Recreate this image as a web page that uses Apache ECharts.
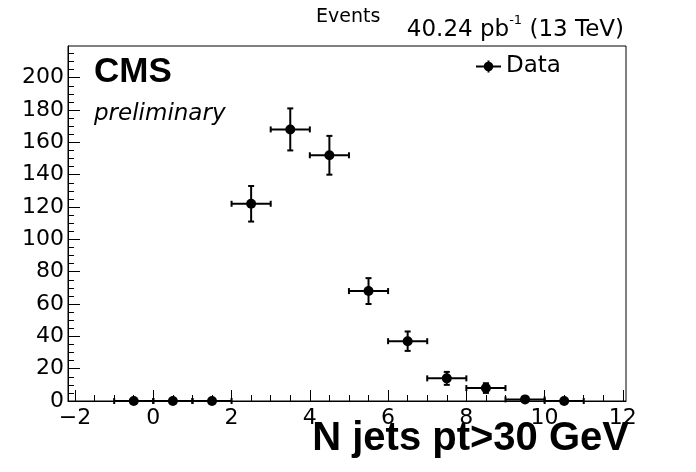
<!DOCTYPE html>
<html>
<head>
<meta charset="utf-8">
<script src="https://cdn.jsdelivr.net/npm/echarts@6/dist/echarts.min.js"></script>
<style>
html,body{margin:0;padding:0;background:#fff;}
#chart{width:696px;height:472px;}
</style>
</head>
<body>
<div id="chart"></div>
<script>
// Bin centres (N jets) and content
const binCenters = [-0.5, 0.5, 1.5, 2.5, 3.5, 4.5, 5.5, 6.5, 7.5, 8.5, 9.5, 10.5];
const events     = [0,    0,   0,   122, 168, 152, 68,  37,  14,  8,   1,   0];
const xErrors    = [0.5,  0.5, 0.5, 0.5, 0.5, 0.5, 0.5, 0.5, 0.5, 0.5, 0.5, 0.5];
const yErrors    = [0,    0,   0,   11,  13,  12,  8,   6,   4,   3,   1,   0];

const xTickLabels = [-2, 0, 2, 4, 6, 8, 10, 12];
const xMinorTicks = [-2, -1.5, -1, -0.5, 0, 0.5, 1, 1.5, 2, 2.5, 3, 3.5, 4, 4.5, 5, 5.5, 6, 6.5, 7, 7.5, 8, 8.5, 9, 9.5, 10, 10.5, 11, 11.5, 12];
const yTickLabels = [0, 20, 40, 60, 80, 100, 120, 140, 160, 180, 200];
const yMinorTicks = [5, 10, 15, 25, 30, 35, 45, 50, 55, 65, 70, 75, 85, 90, 95, 105, 110, 115, 125, 130, 135, 145, 150, 155, 165, 170, 175, 185, 190, 195, 205, 210, 215];

const X_MIN = -2.18, X_MAX = 12.08;
const Y_MIN = 0, Y_MAX = 219.6;

const seriesData = binCenters.map((x, i) => [x, events[i], xErrors[i], yErrors[i]]);

const FONT = 'DejaVu Sans';
const chart = echarts.init(document.getElementById('chart'), null, {renderer: 'canvas'});

function fmt(v) { return String(v).replace('-', '\u2212'); }

const option = {
  animation: false,
  backgroundColor: '#fff',
  grid: {
    left: 68, right: 70, top: 46, bottom: 71,
    show: true, borderColor: '#000', borderWidth: 1,
    outerBoundsMode: 'none'
  },
  legend: {
    left: 471, top: 50,
    itemWidth: 25, itemHeight: 13,
    textStyle: {fontFamily: FONT, fontSize: 23, color: '#000', padding: [0, 0, 0, 0]},
    data: [{
      name: 'Data',
      icon: 'path://M0,5.5 L25,5.5 L25,7.5 L0,7.5 Z M11.5,0.5 L13.5,0.5 L13.5,12.5 L11.5,12.5 Z M7.7,6.5 A4.8,4.8 0 1,1 17.3,6.5 A4.8,4.8 0 1,1 7.7,6.5 Z'
    }],
    itemStyle: {color: '#000'}
  },
  xAxis: [{
    type: 'value', min: X_MIN, max: X_MAX, position: 'bottom',
    axisLine: {show: true, onZero: false, lineStyle: {color: '#000', width: 1}},
    axisTick: {show: true, inside: true, length: 11, customValues: xTickLabels, lineStyle: {color: '#000', width: 1}},
    axisLabel: {customValues: xTickLabels, formatter: fmt, fontFamily: FONT, fontSize: 22, color: '#000', margin: 6},
    splitLine: {show: false}
  }, {
    type: 'value', min: X_MIN, max: X_MAX, position: 'bottom',
    axisLine: {show: false, onZero: false},
    axisTick: {show: true, inside: true, length: 6, customValues: xMinorTicks, lineStyle: {color: '#000', width: 1}},
    axisLabel: {show: false},
    splitLine: {show: false}
  }],
  yAxis: [{
    type: 'value', min: Y_MIN, max: Y_MAX, position: 'left',
    axisLine: {show: true, onZero: false, lineStyle: {color: '#000', width: 1}},
    axisTick: {show: true, inside: true, length: 12, customValues: yTickLabels, lineStyle: {color: '#000', width: 1}},
    axisLabel: {customValues: yTickLabels, fontFamily: FONT, fontSize: 22, color: '#000', margin: 4},
    splitLine: {show: false}
  }, {
    type: 'value', min: Y_MIN, max: Y_MAX, position: 'left',
    axisLine: {show: false, onZero: false},
    axisTick: {show: true, inside: true, length: 6, customValues: yMinorTicks, lineStyle: {color: '#000', width: 1}},
    axisLabel: {show: false},
    splitLine: {show: false}
  }],
  graphic: [
    {type: 'text', left: 316, top: 8, style: {text: 'Events', font: '19px "DejaVu Sans"', fill: '#000'}},
    {type: 'text', right: 72, top: 14, style: {
      text: '{a|40.24 pb}{s|-1}{a| (13 TeV)}', fill: '#000',
      rich: {
        a: {fontFamily: FONT, fontSize: 23, color: '#000', lineHeight: 28, verticalAlign: 'bottom'},
        s: {fontFamily: FONT, fontSize: 13, color: '#000', lineHeight: 28, verticalAlign: 'top'}
      }
    }},
    {type: 'text', left: 94, top: 55, style: {text: 'CMS', font: 'bold 35px "Liberation Sans"', fill: '#000'}},
    {type: 'text', left: 94, top: 103, style: {text: 'preliminary', font: 'oblique 23px "DejaVu Sans"', fill: '#000'}},
    {type: 'text', right: 67, top: 419, style: {text: 'N jets pt>30 GeV', font: 'bold 40px "Liberation Sans"', fill: '#000'}}
  ],
  series: [{
    name: 'Data',
    type: 'custom',
    xAxisIndex: 0, yAxisIndex: 0,
    clip: false,
    data: seriesData,
    encode: {x: 0, y: 1},
    renderItem: function (params, api) {
      const x = api.value(0), y = api.value(1), ex = api.value(2), ey = api.value(3);
      const c = api.coord([x, y]);
      const l = api.coord([x - ex, y]);
      const r = api.coord([x + ex, y]);
      const st = {stroke: '#000', lineWidth: 2};
      const cap = 3;
      const children = [
        {type: 'line', shape: {x1: l[0], y1: c[1], x2: r[0], y2: c[1]}, style: st},
        {type: 'line', shape: {x1: l[0], y1: c[1] - cap, x2: l[0], y2: c[1] + cap}, style: st},
        {type: 'line', shape: {x1: r[0], y1: c[1] - cap, x2: r[0], y2: c[1] + cap}, style: st}
      ];
      if (ey > 0) {
        const t = api.coord([x, y + ey]);
        const b = api.coord([x, y - ey]);
        children.push(
          {type: 'line', shape: {x1: c[0], y1: t[1], x2: c[0], y2: b[1]}, style: st},
          {type: 'line', shape: {x1: c[0] - cap, y1: t[1], x2: c[0] + cap, y2: t[1]}, style: st},
          {type: 'line', shape: {x1: c[0] - cap, y1: b[1], x2: c[0] + cap, y2: b[1]}, style: st}
        );
      }
      children.push({type: 'circle', shape: {cx: c[0], cy: c[1], r: 5}, style: {fill: '#000'}});
      return {type: 'group', children: children};
    },
    itemStyle: {color: '#000'}
  }]
};
chart.setOption(option);
</script>
</body>
</html>
